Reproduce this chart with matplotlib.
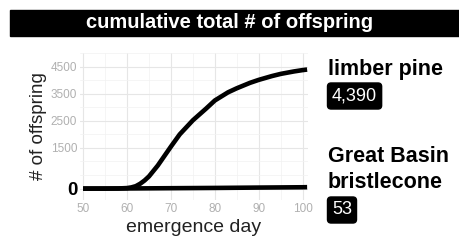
import matplotlib.pyplot as plt
from matplotlib.ticker import MultipleLocator

plt.rcParams['font.family'] = ['Liberation Sans', 'DejaVu Sans']

# limber pine cumulative offspring by emergence day
pine_day = [50, 55, 58, 60, 61, 62, 63, 64, 65, 67, 70, 72, 75, 78, 80, 83, 85, 88, 90, 93, 95, 98, 100, 101]
pine_total = [0, 0, 5, 20, 45, 90, 180, 300, 450, 850, 1550, 2000, 2520, 2950, 3250, 3550, 3700, 3900, 4010, 4150, 4230, 4320, 4370, 4390]

# Great Basin bristlecone, stays near zero
bristle_day = [50, 60, 70, 80, 90, 100, 101]
bristle_total = [0, 5, 15, 25, 38, 50, 53]

yticks = [0, 1500, 2500, 3500, 4500]
yticklabels = ['0', '1500', '2500', '3500', '4500']
xticks = [50, 60, 70, 80, 90, 100]

fig = plt.figure(figsize=(4.59, 2.4), dpi=100)

# title bar
fig.patches.append(plt.Rectangle((10 / 459, 1 - 36 / 240), 449 / 459, 26 / 240,
                                 transform=fig.transFigure, color='black', zorder=0))
fig.text(0.5, 1 - 23 / 240, 'cumulative total # of offspring', color='white',
         fontsize=14.5, fontweight='bold', ha='center', va='center')

ax = fig.add_axes([80 / 459, 1 - 200 / 240, 228 / 459, 147 / 240])
ax.plot(pine_day, pine_total, color='black', lw=3.3, solid_capstyle='butt', zorder=3)
ax.plot(bristle_day, bristle_total, color='black', lw=3.3, solid_capstyle='butt', zorder=3)

ax.set_xlim(49.3, 101.2)
ax.set_ylim(-420, 5000)
ax.set_xticks(xticks)
ax.xaxis.set_minor_locator(MultipleLocator(5))
ax.set_yticks(yticks)
ax.set_yticklabels(yticklabels)
ax.yaxis.set_minor_locator(MultipleLocator(500))
ax.grid(True, which='major', color='#e6e6e6', lw=0.8)
ax.grid(True, which='minor', color='#f2f2f2', lw=0.5)
ax.set_axisbelow(True)
for s in ax.spines.values():
    s.set_visible(False)
ax.tick_params(which='both', length=0, labelsize=8.5, labelcolor='#b0b0b0', pad=2)
zero = ax.get_yticklabels()[0]
zero.set_fontsize(13.5)
zero.set_fontweight('bold')
zero.set_color('black')

ax.set_xlabel('emergence day', fontsize=14, labelpad=3, color='#222222')
ax.set_ylabel('# of offspring', fontsize=13.5, labelpad=3, color='#222222')

# end labels
box = dict(boxstyle='round,pad=0.25,rounding_size=0.2', fc='black', ec='black')
fig.text(328 / 459, 1 - 69 / 240, 'limber pine', fontsize=15.5, fontweight='bold', va='center')
fig.text(332 / 459, 1 - 96 / 240, '4,390', fontsize=13, color='white', va='center', bbox=box)
fig.text(328 / 459, 1 - 157 / 240, 'Great Basin', fontsize=15.5, fontweight='bold', va='center')
fig.text(328 / 459, 1 - 183 / 240, 'bristlecone', fontsize=15.5, fontweight='bold', va='center')
fig.text(332 / 459, 1 - 210 / 240, '53', fontsize=13, color='white', va='center', bbox=box)

fig.savefig('out.png', dpi=100)
